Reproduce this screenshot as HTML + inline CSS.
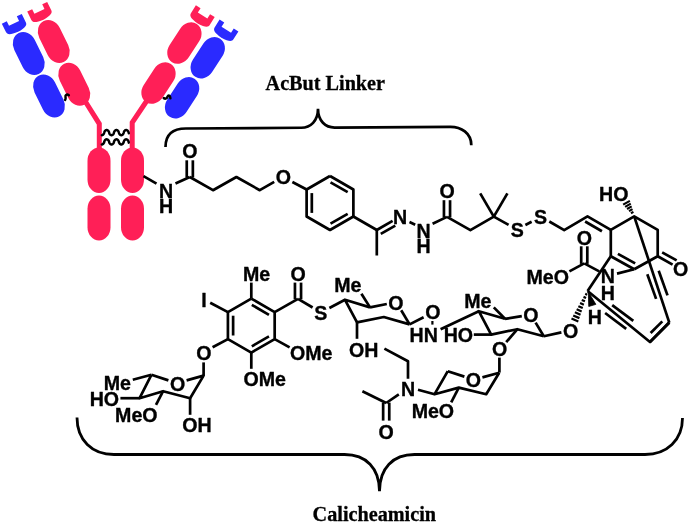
<!DOCTYPE html>
<html><head><meta charset="utf-8"><style>
html,body{margin:0;padding:0;background:#fff;}
svg{display:block;will-change:transform;opacity:0.999}
svg text{font-family:"Liberation Sans",sans-serif;font-weight:bold;fill:#000;}
svg .t{font-family:"Liberation Serif",serif;font-weight:bold;}
</style></head><body>
<svg width="690" height="524" viewBox="0 0 690 524">
<rect width="690" height="524" fill="#fff"/>
<g id="antibody">
<path d="M80,93 L99.3,123.8 L99.3,150" fill="none" stroke="#ff1f57" stroke-width="5"/>
<path d="M152,93 L132.2,122.6 L132.2,150" fill="none" stroke="#ff1f57" stroke-width="5"/>
<rect x="-11.4" y="-22.75" width="22.8" height="45.5" rx="11.4" ry="13.200000000000001" fill="#ff1f57" transform="translate(53.75,41.5) rotate(-26)"/>
<rect x="-11.4" y="-22.75" width="22.8" height="45.5" rx="11.4" ry="13.200000000000001" fill="#ff1f57" transform="translate(74.25,84.25) rotate(-26)"/>
<rect x="-11.4" y="-22.75" width="22.8" height="45.5" rx="11.4" ry="13.200000000000001" fill="#2a2aff" transform="translate(28.75,53.5) rotate(-26)"/>
<rect x="-11.4" y="-22.75" width="22.8" height="45.5" rx="11.4" ry="13.200000000000001" fill="#2a2aff" transform="translate(49,96) rotate(-26)"/>
<rect x="-11.4" y="-22.75" width="22.8" height="45.5" rx="11.4" ry="13.200000000000001" fill="#ff1f57" transform="translate(184.4,43.1) rotate(33)"/>
<rect x="-11.4" y="-22.75" width="22.8" height="45.5" rx="11.4" ry="13.200000000000001" fill="#ff1f57" transform="translate(158.5,83.1) rotate(33)"/>
<rect x="-11.4" y="-22.75" width="22.8" height="45.5" rx="11.4" ry="13.200000000000001" fill="#2a2aff" transform="translate(207.75,57.75) rotate(33)"/>
<rect x="-11.4" y="-22.75" width="22.8" height="45.5" rx="11.4" ry="13.200000000000001" fill="#2a2aff" transform="translate(182.1,97.75) rotate(33)"/>
<path d="M-11.1,0 L-5.6,0 L-5.6,5.1 L5.6,5.1 L5.6,0 L11.1,0 L11.1,9.4 C11.1,12.2 8.5,14.0 0,14.4 C-8.5,14.0 -11.1,12.2 -11.1,9.4 Z" fill="#ff1f57" transform="translate(37.2,6.75) rotate(-26)"/>
<path d="M-11.1,0 L-5.6,0 L-5.6,5.1 L5.6,5.1 L5.6,0 L11.1,0 L11.1,9.4 C11.1,12.2 8.5,14.0 0,14.4 C-8.5,14.0 -11.1,12.2 -11.1,9.4 Z" fill="#2a2aff" transform="translate(11.8,18.8) rotate(-26)"/>
<path d="M-11.1,0 L-5.6,0 L-5.6,5.1 L5.6,5.1 L5.6,0 L11.1,0 L11.1,9.4 C11.1,12.2 8.5,14.0 0,14.4 C-8.5,14.0 -11.1,12.2 -11.1,9.4 Z" fill="#ff1f57" transform="translate(205.3,11.2) rotate(32)"/>
<path d="M-11.1,0 L-5.6,0 L-5.6,5.1 L5.6,5.1 L5.6,0 L11.1,0 L11.1,9.4 C11.1,12.2 8.5,14.0 0,14.4 C-8.5,14.0 -11.1,12.2 -11.1,9.4 Z" fill="#2a2aff" transform="translate(229,25.5) rotate(32)"/>
<rect x="-11.5" y="-22.75" width="23" height="45.5" rx="11.5" ry="13.3" fill="#ff1f57" transform="translate(99,170.2) rotate(0)"/>
<rect x="-11.5" y="-22.5" width="23" height="45" rx="11.5" ry="13.3" fill="#ff1f57" transform="translate(99,218) rotate(0)"/>
<rect x="-11.5" y="-22.75" width="23" height="45.5" rx="11.5" ry="13.3" fill="#ff1f57" transform="translate(132.5,170.2) rotate(0)"/>
<rect x="-11.5" y="-22.5" width="23" height="45" rx="11.5" ry="13.3" fill="#ff1f57" transform="translate(132.5,218) rotate(0)"/>
<polyline points="101.80,135.20 102.10,135.17 102.40,135.08 102.70,134.94 103.00,134.73 103.30,134.45 103.60,134.10 103.90,133.64 104.20,132.88 104.50,131.71 104.80,131.20 105.10,130.83 105.40,130.54 105.70,130.31 106.00,130.15 106.30,130.05 106.60,130.00 106.90,130.02 107.20,130.09 107.50,130.22 107.80,130.41 108.10,130.67 108.40,131.00 108.70,131.43 109.00,132.06 109.30,133.33 109.60,133.89 109.90,134.29 110.20,134.60 110.50,134.84 110.80,135.02 111.10,135.13 111.40,135.19 111.70,135.19 112.00,135.13 112.30,135.02 112.60,134.84 112.90,134.60 113.20,134.29 113.50,133.89 113.80,133.33 114.10,132.06 114.40,131.43 114.70,131.00 115.00,130.67 115.30,130.41 115.60,130.22 115.90,130.09 116.20,130.02 116.50,130.00 116.80,130.05 117.10,130.15 117.40,130.31 117.70,130.54 118.00,130.83 118.30,131.20 118.60,131.71 118.90,132.88 119.20,133.64 119.50,134.10 119.80,134.45 120.10,134.73 120.40,134.94 120.70,135.08 121.00,135.17 121.30,135.20 121.60,135.17 121.90,135.08 122.20,134.94 122.50,134.73 122.80,134.45 123.10,134.10 123.40,133.64 123.70,132.88 124.00,131.71 124.30,131.20 124.60,130.83 124.90,130.54 125.20,130.31 125.50,130.15 125.80,130.05 126.10,130.00 126.40,130.02 126.70,130.09 127.00,130.22 127.30,130.41 127.60,130.67 127.90,131.00 128.20,131.43 128.50,132.06 128.80,133.33" fill="none" stroke="#000" stroke-width="2.45" stroke-linecap="round" stroke-linejoin="round"/>
<polyline points="101.80,144.50 102.10,144.47 102.40,144.38 102.70,144.24 103.00,144.03 103.30,143.75 103.60,143.40 103.90,142.94 104.20,142.18 104.50,141.01 104.80,140.50 105.10,140.13 105.40,139.84 105.70,139.61 106.00,139.45 106.30,139.35 106.60,139.30 106.90,139.32 107.20,139.39 107.50,139.52 107.80,139.71 108.10,139.97 108.40,140.30 108.70,140.73 109.00,141.36 109.30,142.63 109.60,143.19 109.90,143.59 110.20,143.90 110.50,144.14 110.80,144.32 111.10,144.43 111.40,144.49 111.70,144.49 112.00,144.43 112.30,144.32 112.60,144.14 112.90,143.90 113.20,143.59 113.50,143.19 113.80,142.63 114.10,141.36 114.40,140.73 114.70,140.30 115.00,139.97 115.30,139.71 115.60,139.52 115.90,139.39 116.20,139.32 116.50,139.30 116.80,139.35 117.10,139.45 117.40,139.61 117.70,139.84 118.00,140.13 118.30,140.50 118.60,141.01 118.90,142.18 119.20,142.94 119.50,143.40 119.80,143.75 120.10,144.03 120.40,144.24 120.70,144.38 121.00,144.47 121.30,144.50 121.60,144.47 121.90,144.38 122.20,144.24 122.50,144.03 122.80,143.75 123.10,143.40 123.40,142.94 123.70,142.18 124.00,141.01 124.30,140.50 124.60,140.13 124.90,139.84 125.20,139.61 125.50,139.45 125.80,139.35 126.10,139.30 126.40,139.32 126.70,139.39 127.00,139.52 127.30,139.71 127.60,139.97 127.90,140.30 128.20,140.73 128.50,141.36 128.80,142.63" fill="none" stroke="#000" stroke-width="2.45" stroke-linecap="round" stroke-linejoin="round"/>
<path d="M65.1,100.0 C66.6,98.6 64.6,96.4 65.9,95.2 C66.9,94.2 68.2,94.4 68.8,95.3" fill="none" stroke="#000" stroke-width="2.5" stroke-linecap="round"/>
<path d="M163.8,98.1 C165.6,99.3 166.9,98.3 167.5,96.8 C168.3,94.9 170.3,95.1 170.4,98.3" fill="none" stroke="#000" stroke-width="2.5" stroke-linecap="round"/>
</g>
<g id="braces">
<path d="M165.5,147 C165.5,135 172,128.5 186,128.5 L301.3,127.75 C310.5,127.7 318,121 318,108.8 C318,121 325.5,127.6 334.7,127.55 L450.5,126.8 C461,126.8 471.3,133 471.3,145.2" fill="none" stroke="#000" stroke-width="2.7"/>
<path d="M77,417.5 C77,440 92,454.5 114,454.5 L344.5,454.5 C366,454.5 379.5,468 379.5,491.3 C379.5,468 393,454.5 414.5,454.5 L645,454.5 C667,454.5 682.5,440 682.5,418" fill="none" stroke="#000" stroke-width="2.8"/>
</g>
<g id="mol" stroke="#000" fill="none">
<g stroke="none">
</g>
<line x1="143.50" y1="176.20" x2="156.50" y2="183.60" stroke-width="2.7" stroke-linecap="butt"/>
<text stroke="#000" stroke-width="0.35" stroke-linejoin="round" x="166.20" y="197.62" text-anchor="middle" font-size="19.6">N</text>
<text stroke="#000" stroke-width="0.35" stroke-linejoin="round" x="166.20" y="213.22" text-anchor="middle" font-size="19.6">H</text>
<line x1="175.50" y1="183.40" x2="189.80" y2="177.00" stroke-width="2.7" stroke-linecap="butt"/>
<line x1="192.85" y1="177.50" x2="192.85" y2="160.30" stroke-width="2.7" stroke-linecap="butt"/>
<line x1="186.75" y1="177.50" x2="186.75" y2="160.30" stroke-width="2.7" stroke-linecap="butt"/>
<text stroke="#000" stroke-width="0.35" stroke-linejoin="round" x="189.80" y="158.12" text-anchor="middle" font-size="19.6">O</text>
<path d="M189.80,177.00 L213.00,190.20 L236.40,177.00 L259.80,190.20 L274.20,181.90" fill="none" stroke-width="2.7" stroke-linejoin="round" stroke-linecap="butt"/>
<text stroke="#000" stroke-width="0.35" stroke-linejoin="round" x="283.30" y="184.32" text-anchor="middle" font-size="19.6">O</text>
<line x1="292.40" y1="182.00" x2="306.62" y2="189.50" stroke-width="2.7" stroke-linecap="butt"/>
<path d="M330.00,176.00 L353.38,189.50 L353.38,216.50 L330.00,230.00 L306.62,216.50 L306.62,189.50 L330.00,176.00" fill="none" stroke-width="2.7" stroke-linejoin="round" stroke-linecap="butt"/>
<line x1="330.52" y1="182.30" x2="347.66" y2="192.20" stroke-width="2.7" stroke-linecap="butt"/>
<line x1="347.66" y1="213.80" x2="330.52" y2="223.70" stroke-width="2.7" stroke-linecap="butt"/>
<line x1="311.82" y1="212.90" x2="311.82" y2="193.10" stroke-width="2.7" stroke-linecap="butt"/>
<line x1="353.38" y1="216.50" x2="376.80" y2="230.00" stroke-width="2.7" stroke-linecap="butt"/>
<line x1="376.80" y1="229.00" x2="376.80" y2="255.50" stroke-width="2.7" stroke-linecap="butt"/>
<line x1="376.80" y1="230.00" x2="392.60" y2="220.90" stroke-width="2.7" stroke-linecap="butt"/>
<line x1="380.79" y1="233.93" x2="395.30" y2="225.58" stroke-width="2.7" stroke-linecap="butt"/>
<text stroke="#000" stroke-width="0.35" stroke-linejoin="round" x="400.20" y="224.22" text-anchor="middle" font-size="19.6">N</text>
<line x1="409.50" y1="222.00" x2="415.20" y2="224.70" stroke-width="2.7" stroke-linecap="butt"/>
<text stroke="#000" stroke-width="0.35" stroke-linejoin="round" x="423.70" y="237.62" text-anchor="middle" font-size="19.6">N</text>
<text stroke="#000" stroke-width="0.35" stroke-linejoin="round" x="423.70" y="253.32" text-anchor="middle" font-size="19.6">H</text>
<line x1="432.60" y1="223.70" x2="447.00" y2="216.90" stroke-width="2.7" stroke-linecap="butt"/>
<line x1="450.05" y1="217.40" x2="450.05" y2="200.20" stroke-width="2.7" stroke-linecap="butt"/>
<line x1="443.95" y1="217.40" x2="443.95" y2="200.20" stroke-width="2.7" stroke-linecap="butt"/>
<text stroke="#000" stroke-width="0.35" stroke-linejoin="round" x="447.00" y="198.02" text-anchor="middle" font-size="19.6">O</text>
<path d="M447.00,216.90 L470.40,230.20 L493.80,216.60" fill="none" stroke-width="2.7" stroke-linejoin="round" stroke-linecap="butt"/>
<line x1="493.80" y1="216.60" x2="480.20" y2="193.40" stroke-width="2.7" stroke-linecap="butt"/>
<line x1="493.80" y1="216.60" x2="507.40" y2="193.40" stroke-width="2.7" stroke-linecap="butt"/>
<line x1="493.80" y1="216.60" x2="508.60" y2="224.90" stroke-width="2.7" stroke-linecap="butt"/>
<text stroke="#000" stroke-width="0.35" stroke-linejoin="round" x="517.20" y="236.82" text-anchor="middle" font-size="19.6">S</text>
<line x1="525.40" y1="225.00" x2="531.60" y2="221.80" stroke-width="2.7" stroke-linecap="butt"/>
<text stroke="#000" stroke-width="0.35" stroke-linejoin="round" x="540.60" y="224.02" text-anchor="middle" font-size="19.6">S</text>
<path d="M549.30,221.50 L564.20,230.10 L587.50,216.40 L610.80,229.90" fill="none" stroke-width="2.7" stroke-linejoin="round" stroke-linecap="butt"/>
<line x1="585.13" y1="221.50" x2="601.94" y2="231.24" stroke-width="2.7" stroke-linecap="butt"/>
<path d="M610.80,256.30 L610.80,229.90 L634.20,216.30 L657.70,229.90 L657.70,256.30 L634.20,269.30" fill="none" stroke-width="2.7" stroke-linejoin="round" stroke-linecap="butt"/>
<line x1="634.20" y1="269.30" x2="610.80" y2="256.30" stroke-width="2.7" stroke-linecap="butt"/>
<line x1="617.89" y1="253.83" x2="635.17" y2="263.43" stroke-width="2.7" stroke-linecap="butt"/>
<line x1="657.70" y1="256.30" x2="672.60" y2="264.60" stroke-width="2.7" stroke-linecap="butt"/>
<line x1="662.17" y1="252.38" x2="676.64" y2="260.44" stroke-width="2.7" stroke-linecap="butt"/>
<text stroke="#000" stroke-width="0.35" stroke-linejoin="round" x="680.70" y="276.32" text-anchor="middle" font-size="19.6">O</text>
<text stroke="#000" stroke-width="0.35" stroke-linejoin="round" x="613.80" y="201.22" text-anchor="middle" font-size="19.6">HO</text>
<line x1="630.97" y1="213.27" x2="633.41" y2="211.87" stroke-width="2.1" stroke-linecap="butt"/>
<line x1="629.01" y1="211.12" x2="632.53" y2="209.10" stroke-width="2.1" stroke-linecap="butt"/>
<line x1="627.05" y1="208.97" x2="631.65" y2="206.33" stroke-width="2.1" stroke-linecap="butt"/>
<line x1="625.10" y1="206.82" x2="630.76" y2="203.56" stroke-width="2.1" stroke-linecap="butt"/>
<line x1="623.14" y1="204.67" x2="629.88" y2="200.79" stroke-width="2.1" stroke-linecap="butt"/>
<line x1="634.20" y1="216.30" x2="669.30" y2="322.70" stroke-width="2.7" stroke-linecap="butt"/>
<line x1="647.30" y1="274.30" x2="656.10" y2="298.90" stroke-width="2.7" stroke-linecap="butt"/>
<line x1="658.70" y1="270.80" x2="667.50" y2="295.40" stroke-width="2.7" stroke-linecap="butt"/>
<path d="M669.30,322.70 L650.00,342.00" fill="none" stroke-width="2.7" stroke-linejoin="round" stroke-linecap="butt"/>
<line x1="662.30" y1="321.40" x2="650.60" y2="333.00" stroke-width="2.7" stroke-linecap="butt"/>
<path d="M669.30,322.20 L650.00,342.00 L587.60,291.00" fill="none" stroke-width="2.7" stroke-linejoin="round" stroke-linecap="butt"/>
<line x1="612.20" y1="305.10" x2="633.30" y2="320.90" stroke-width="2.7" stroke-linecap="butt"/>
<line x1="605.10" y1="313.00" x2="626.20" y2="328.80" stroke-width="2.7" stroke-linecap="butt"/>
<line x1="587.60" y1="291.00" x2="610.80" y2="256.30" stroke-width="2.7" stroke-linecap="butt"/>
<line x1="587.30" y1="263.90" x2="587.30" y2="246.30" stroke-width="2.7" stroke-linecap="butt"/>
<line x1="581.20" y1="263.90" x2="581.20" y2="246.30" stroke-width="2.7" stroke-linecap="butt"/>
<text stroke="#000" stroke-width="0.35" stroke-linejoin="round" x="584.25" y="244.62" text-anchor="middle" font-size="19.6">O</text>
<line x1="584.25" y1="263.40" x2="569.40" y2="271.40" stroke-width="2.7" stroke-linecap="butt"/>
<text stroke="#000" stroke-width="0.35" stroke-linejoin="round" x="568.90" y="284.02" text-anchor="end" font-size="19.6">MeO</text>
<line x1="584.25" y1="263.40" x2="599.20" y2="271.40" stroke-width="2.7" stroke-linecap="butt"/>
<text stroke="#000" stroke-width="0.35" stroke-linejoin="round" x="607.90" y="283.32" text-anchor="middle" font-size="19.6">N</text>
<text stroke="#000" stroke-width="0.35" stroke-linejoin="round" x="607.90" y="299.62" text-anchor="middle" font-size="19.6">H</text>
<line x1="617.00" y1="273.60" x2="634.20" y2="269.30" stroke-width="2.7" stroke-linecap="butt"/>
<polygon points="588.30,291.80 588.75,306.44 595.85,304.36" fill="#000" stroke="#000" stroke-width="0.8" stroke-linejoin="round"/>
<text stroke="#000" stroke-width="0.35" stroke-linejoin="round" x="594.90" y="324.22" text-anchor="middle" font-size="19.6">H</text>
<line x1="587.17" y1="294.64" x2="585.22" y2="293.78" stroke-width="2.2" stroke-linecap="butt"/>
<line x1="586.07" y1="297.99" x2="583.50" y2="296.87" stroke-width="2.2" stroke-linecap="butt"/>
<line x1="584.96" y1="301.35" x2="581.78" y2="299.96" stroke-width="2.2" stroke-linecap="butt"/>
<line x1="583.85" y1="304.71" x2="580.07" y2="303.05" stroke-width="2.2" stroke-linecap="butt"/>
<line x1="582.75" y1="308.06" x2="578.35" y2="306.14" stroke-width="2.2" stroke-linecap="butt"/>
<line x1="581.64" y1="311.42" x2="576.64" y2="309.23" stroke-width="2.2" stroke-linecap="butt"/>
<line x1="580.54" y1="314.77" x2="574.92" y2="312.31" stroke-width="2.2" stroke-linecap="butt"/>
<line x1="579.43" y1="318.13" x2="573.20" y2="315.40" stroke-width="2.2" stroke-linecap="butt"/>
<line x1="578.33" y1="321.49" x2="571.49" y2="318.49" stroke-width="2.2" stroke-linecap="butt"/>
<text stroke="#000" stroke-width="0.35" stroke-linejoin="round" x="570.60" y="338.22" text-anchor="middle" font-size="19.6">O</text>
<path d="M251.30,298.60 L274.68,312.10 L274.68,339.10 L251.30,352.60 L227.92,339.10 L227.92,312.10 L251.30,298.60" fill="none" stroke-width="2.7" stroke-linejoin="round" stroke-linecap="butt"/>
<line x1="251.82" y1="304.90" x2="268.96" y2="314.80" stroke-width="2.7" stroke-linecap="butt"/>
<line x1="268.96" y1="336.40" x2="251.82" y2="346.30" stroke-width="2.7" stroke-linecap="butt"/>
<line x1="233.12" y1="335.50" x2="233.12" y2="315.70" stroke-width="2.7" stroke-linecap="butt"/>
<line x1="251.30" y1="298.60" x2="251.30" y2="282.60" stroke-width="2.7" stroke-linecap="butt"/>
<text stroke="#000" stroke-width="0.35" stroke-linejoin="round" x="242.90" y="280.92" text-anchor="start" font-size="19.6">Me</text>
<line x1="227.92" y1="312.10" x2="210.20" y2="302.80" stroke-width="2.7" stroke-linecap="butt"/>
<text stroke="#000" stroke-width="0.35" stroke-linejoin="round" x="203.90" y="307.42" text-anchor="middle" font-size="19.6">I</text>
<line x1="227.92" y1="339.10" x2="212.60" y2="347.30" stroke-width="2.7" stroke-linecap="butt"/>
<text stroke="#000" stroke-width="0.35" stroke-linejoin="round" x="203.80" y="360.22" text-anchor="middle" font-size="19.6">O</text>
<line x1="203.60" y1="362.40" x2="203.60" y2="376.00" stroke-width="2.7" stroke-linecap="butt"/>
<line x1="251.30" y1="352.60" x2="251.30" y2="368.80" stroke-width="2.7" stroke-linecap="butt"/>
<text stroke="#000" stroke-width="0.35" stroke-linejoin="round" x="243.40" y="385.82" text-anchor="start" font-size="19.6">OMe</text>
<line x1="274.68" y1="339.10" x2="289.60" y2="347.40" stroke-width="2.7" stroke-linecap="butt"/>
<text stroke="#000" stroke-width="0.35" stroke-linejoin="round" x="289.90" y="360.22" text-anchor="start" font-size="19.6">OMe</text>
<line x1="274.68" y1="312.10" x2="298.00" y2="298.80" stroke-width="2.7" stroke-linecap="butt"/>
<line x1="301.05" y1="299.30" x2="301.05" y2="282.60" stroke-width="2.7" stroke-linecap="butt"/>
<line x1="294.95" y1="299.30" x2="294.95" y2="282.60" stroke-width="2.7" stroke-linecap="butt"/>
<text stroke="#000" stroke-width="0.35" stroke-linejoin="round" x="298.00" y="281.32" text-anchor="middle" font-size="19.6">O</text>
<line x1="298.00" y1="298.80" x2="312.60" y2="307.50" stroke-width="2.7" stroke-linecap="butt"/>
<text stroke="#000" stroke-width="0.35" stroke-linejoin="round" x="320.80" y="319.62" text-anchor="middle" font-size="19.6">S</text>
<line x1="329.40" y1="308.00" x2="345.00" y2="299.80" stroke-width="2.7" stroke-linecap="butt"/>
<line x1="203.60" y1="375.60" x2="186.60" y2="380.40" stroke-width="2.7" stroke-linecap="butt"/>
<line x1="168.40" y1="380.40" x2="151.40" y2="374.80" stroke-width="2.7" stroke-linecap="butt"/>
<text stroke="#000" stroke-width="0.35" stroke-linejoin="round" x="177.50" y="390.52" text-anchor="middle" font-size="19.6">O</text>
<path d="M151.40,374.80 L139.60,398.20 L163.10,391.20 L190.10,398.20 L203.60,375.60" fill="none" stroke-width="2.7" stroke-linejoin="round" stroke-linecap="butt"/>
<line x1="151.40" y1="374.80" x2="132.80" y2="379.80" stroke-width="2.7" stroke-linecap="butt"/>
<text stroke="#000" stroke-width="0.35" stroke-linejoin="round" x="103.70" y="390.42" text-anchor="start" font-size="19.6">Me</text>
<line x1="139.60" y1="398.20" x2="120.40" y2="398.20" stroke-width="2.7" stroke-linecap="butt"/>
<text stroke="#000" stroke-width="0.35" stroke-linejoin="round" x="89.70" y="406.22" text-anchor="start" font-size="19.6">HO</text>
<line x1="163.10" y1="391.20" x2="156.00" y2="404.80" stroke-width="2.7" stroke-linecap="butt"/>
<text stroke="#000" stroke-width="0.35" stroke-linejoin="round" x="115.10" y="422.02" text-anchor="start" font-size="19.6">MeO</text>
<line x1="190.10" y1="398.20" x2="190.10" y2="414.80" stroke-width="2.7" stroke-linecap="butt"/>
<text stroke="#000" stroke-width="0.35" stroke-linejoin="round" x="182.30" y="432.22" text-anchor="start" font-size="19.6">OH</text>
<path d="M409.60,324.40 L383.80,317.00 L357.00,322.40 L345.00,299.80 L370.00,307.40" fill="none" stroke-width="2.7" stroke-linejoin="round" stroke-linecap="butt"/>
<line x1="370.00" y1="307.40" x2="386.80" y2="304.00" stroke-width="2.7" stroke-linecap="butt"/>
<text stroke="#000" stroke-width="0.35" stroke-linejoin="round" x="395.80" y="309.62" text-anchor="middle" font-size="19.6">O</text>
<line x1="401.20" y1="310.20" x2="409.60" y2="324.40" stroke-width="2.7" stroke-linecap="butt"/>
<line x1="370.00" y1="307.40" x2="361.40" y2="293.80" stroke-width="2.7" stroke-linecap="butt"/>
<text stroke="#000" stroke-width="0.35" stroke-linejoin="round" x="334.30" y="292.32" text-anchor="start" font-size="19.6">Me</text>
<line x1="357.00" y1="322.40" x2="357.00" y2="338.80" stroke-width="2.7" stroke-linecap="butt"/>
<text stroke="#000" stroke-width="0.35" stroke-linejoin="round" x="349.10" y="356.62" text-anchor="start" font-size="19.6">OH</text>
<line x1="409.60" y1="324.40" x2="423.60" y2="317.20" stroke-width="2.7" stroke-linecap="butt"/>
<text stroke="#000" stroke-width="0.35" stroke-linejoin="round" x="432.90" y="318.92" text-anchor="middle" font-size="19.6">O</text>
<line x1="432.40" y1="321.00" x2="432.40" y2="324.60" stroke-width="2.2" stroke-linecap="butt"/>
<text stroke="#000" stroke-width="0.35" stroke-linejoin="round" x="437.90" y="342.02" text-anchor="end" font-size="19.6">HN</text>
<line x1="440.60" y1="329.20" x2="478.80" y2="311.20" stroke-width="2.7" stroke-linecap="butt"/>
<path d="M543.80,336.20 L517.40,329.20 L491.20,334.60 L478.80,311.20 L505.00,318.80" fill="none" stroke-width="2.7" stroke-linejoin="round" stroke-linecap="butt"/>
<line x1="505.00" y1="318.80" x2="521.80" y2="316.20" stroke-width="2.7" stroke-linecap="butt"/>
<text stroke="#000" stroke-width="0.35" stroke-linejoin="round" x="530.80" y="322.02" text-anchor="middle" font-size="19.6">O</text>
<line x1="535.60" y1="322.60" x2="543.80" y2="336.20" stroke-width="2.7" stroke-linecap="butt"/>
<line x1="505.00" y1="318.80" x2="493.80" y2="307.40" stroke-width="2.7" stroke-linecap="butt"/>
<text stroke="#000" stroke-width="0.35" stroke-linejoin="round" x="464.30" y="307.52" text-anchor="start" font-size="19.6">Me</text>
<line x1="491.20" y1="334.60" x2="473.80" y2="334.60" stroke-width="2.7" stroke-linecap="butt"/>
<text stroke="#000" stroke-width="0.35" stroke-linejoin="round" x="443.70" y="342.42" text-anchor="start" font-size="19.6">HO</text>
<line x1="543.80" y1="336.20" x2="561.40" y2="332.40" stroke-width="2.7" stroke-linecap="butt"/>
<line x1="517.40" y1="329.20" x2="506.20" y2="342.20" stroke-width="2.7" stroke-linecap="butt"/>
<text stroke="#000" stroke-width="0.35" stroke-linejoin="round" x="499.60" y="355.82" text-anchor="middle" font-size="19.6">O</text>
<line x1="499.40" y1="357.60" x2="499.40" y2="372.60" stroke-width="2.7" stroke-linecap="butt"/>
<line x1="499.20" y1="372.80" x2="482.40" y2="377.40" stroke-width="2.7" stroke-linecap="butt"/>
<text stroke="#000" stroke-width="0.35" stroke-linejoin="round" x="473.40" y="386.82" text-anchor="middle" font-size="19.6">O</text>
<line x1="464.40" y1="376.60" x2="447.80" y2="371.20" stroke-width="2.7" stroke-linecap="butt"/>
<path d="M447.80,371.20 L434.60,394.20 L458.80,387.60 L486.20,394.20 L499.20,372.80" fill="none" stroke-width="2.7" stroke-linejoin="round" stroke-linecap="butt"/>
<line x1="458.80" y1="387.60" x2="451.20" y2="402.40" stroke-width="2.7" stroke-linecap="butt"/>
<text stroke="#000" stroke-width="0.35" stroke-linejoin="round" x="454.10" y="418.12" text-anchor="end" font-size="19.6">MeO</text>
<line x1="434.60" y1="394.20" x2="418.00" y2="389.80" stroke-width="2.7" stroke-linecap="butt"/>
<text stroke="#000" stroke-width="0.35" stroke-linejoin="round" x="408.00" y="395.82" text-anchor="middle" font-size="19.6">N</text>
<path d="M408.00,378.80 L408.00,361.20 L384.40,348.60" fill="none" stroke-width="2.7" stroke-linejoin="round" stroke-linecap="butt"/>
<line x1="398.80" y1="394.40" x2="386.20" y2="403.00" stroke-width="2.7" stroke-linecap="butt"/>
<line x1="386.20" y1="403.00" x2="362.40" y2="391.20" stroke-width="2.7" stroke-linecap="butt"/>
<line x1="383.15" y1="402.60" x2="383.15" y2="420.60" stroke-width="2.7" stroke-linecap="butt"/>
<line x1="389.25" y1="402.60" x2="389.25" y2="420.60" stroke-width="2.7" stroke-linecap="butt"/>
<text stroke="#000" stroke-width="0.35" stroke-linejoin="round" x="386.20" y="438.62" text-anchor="middle" font-size="19.6">O</text>
</g>
<text class="t" x="325.3" y="89.8" text-anchor="middle" font-size="20.2" stroke="#000" stroke-width="0.3">AcBut Linker</text>
<text class="t" x="374.3" y="521" text-anchor="middle" font-size="20.2" stroke="#000" stroke-width="0.3">Calicheamicin</text>
</svg>
</body></html>
